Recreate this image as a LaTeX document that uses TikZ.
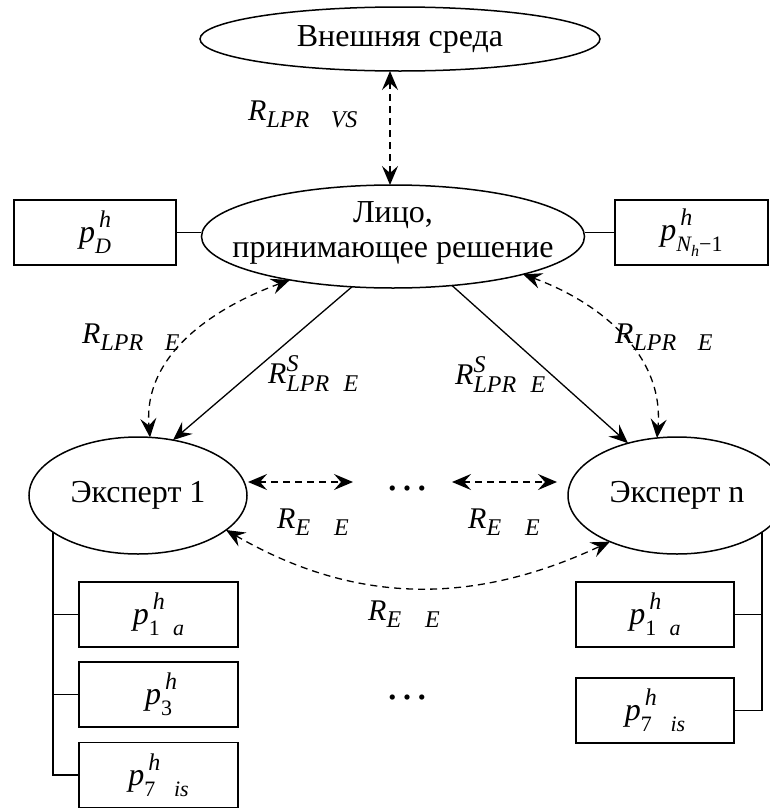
\documentclass[tikz,border=0pt]{standalone}
\usepackage{amsmath}
\usepackage{fontspec}
\setmainfont{Liberation Serif}
\usetikzlibrary{shapes.geometric,arrows.meta,calc}
\newcommand\ii[1]{\textit{#1}}
\newcommand\msml[1]{\mbox{\fontsize{24}{24}\selectfont\itshape #1}}
\newcommand\pbx[1]{{\fontsize{32}{32}\selectfont\itshape p}\rlap{\hspace{4pt}\raisebox{15pt}{\fontsize{24}{24}\selectfont\itshape h}}\raisebox{-11pt}{\fontsize{22}{22}\selectfont #1}}
\begin{document}
\begin{tikzpicture}[x=1pt,y=-1pt,
  every node/.style={font=\fontsize{32}{35}\selectfont},
  mfont/.style={font=\fontsize{30}{34}\selectfont},
  dotfont/.style={font=\fontsize{44}{44}\selectfont, inner sep=0pt},
  ell/.style={draw, ellipse, line width=1.5pt, inner sep=0pt},
  pbox/.style={draw, rectangle, line width=1.5pt, inner sep=0pt, minimum height=65pt},
  dsh/.style={dash pattern=on 7pt off 5pt, line width=1.3pt},
  sol/.style={line width=1.3pt},
  tree/.style={line width=1.6pt},
  lbl/.style={anchor=base west, inner sep=0pt, mfont},
  >={Stealth[length=19pt,width=16pt,inset=7pt]}
]
\useasboundingbox (0,0) rectangle (770,809);

% ellipses
\node[ell, minimum width=400pt, minimum height=64pt] (top) at (400,39) {Внешняя среда};
\node[ell, minimum width=383pt, minimum height=103pt] (lpr) at (393,236.5) {};
\node[align=center, inner sep=0pt] (lprt) at (393,233) {Лицо,\\принимающее решение};
\node[ell, minimum width=218pt, minimum height=117pt] (e1) at (138,495.5) {Эксперт 1};
\node[ell, minimum width=218pt, minimum height=117pt] (en) at (677,495.5) {Эксперт n};

% parameter boxes
\node[pbox, minimum width=162pt] (pD) at (95,232.5) {\pbx{\itshape D}};
\node[pbox, minimum width=153pt] (pN) at (691.5,232.5) {\pbx{\itshape N\raisebox{-5pt}{\fontsize{16}{16}\selectfont h}\upshape −1}};
\node[pbox, minimum width=159pt] (l1) at (158.5,614.5) {\pbx{1\hspace{0.6em}\itshape a}};
\node[pbox, minimum width=159pt] (l2) at (158.5,694.5) {\pbx{3}};
\node[pbox, minimum width=159pt] (l3) at (158.5,775) {\pbx{7\hspace{0.85em}\itshape is}};
\node[pbox, minimum width=158pt] (r1) at (655,614.5) {\pbx{1\hspace{0.6em}\itshape a}};
\node[pbox, minimum width=158pt] (r2) at (655,710.5) {\pbx{7\hspace{0.85em}\itshape is}};

% dots
\node[dotfont, anchor=base] (d1) at (407,490) {…};
\node[dotfont, anchor=base] (d2) at (407,699) {…};

% connectors
\draw[tree] (pD.east) -- (pD.east -| lpr.west);
\draw[tree] (pN.west) -- (pN.west -| lpr.east);
\draw[dsh,<->] ($(top.center)+(-10,32)$) -- ($(lpr.center)+(-3,-51.5)$);

\draw[sol,->] ($(lpr.center)+(-41,50.3)$) -- ($(e1.center)+(35,-55.4)$);
\draw[sol,->] ($(lpr.center)+(59,49)$) -- ($(en.center)+(-49,-52.3)$);

\draw[dsh,<->] ($(lpr.center)+(-103,43.4)$) to[out=200, in=95] ($(e1.center)+(12,-58.1)$);
\draw[dsh,<->] ($(lpr.center)+(130,37.8)$) to[out=-20, in=85] ($(en.center)+(-20,-57.5)$);

\coordinate (h1a) at (248,482);
\coordinate (h1b) at (353,482);
\coordinate (h2a) at (452,482);
\coordinate (h2b) at (557,482);
\draw[dsh,<->] (h1a) -- (h1b);
\draw[dsh,<->] (h2a) -- (h2b);

\draw[dsh,<->] ($(e1.center)+(88,34.5)$) to[out=-30, in=205] ($(en.center)+(-67,46.1)$);

% trees
\coordinate (tl) at ($(e1.center)+(-85,36.6)$);
\coordinate (tr) at ($(en.center)+(85,36.6)$);
\draw[tree] (tl) |- (l1.west);
\draw[tree] (tl) |- (l2.west);
\draw[tree] (tl) |- (l3.west);
\draw[tree] (tr) |- (r1.east);
\draw[tree] (tr) |- (r2.east);

% labels
\node[lbl] (lvs) at (248,120) {$\ii{R}_{\msml{LPR\hspace{0.9em}VS}}$};
\node[lbl] (lle) at (82,343) {$\ii{R}_{\msml{LPR\hspace{0.9em}E}}$};
\node[lbl] (rle) at (615,343) {$\ii{R}_{\msml{LPR\hspace{0.9em}E}}$};
\node[lbl] (lse) at (268,383) {$\ii{R}^{\msml{S}}_{\msml{LPR\hspace{0.6em}E}}$};
\node[lbl] (rse) at (455,384) {$\ii{R}^{\msml{S}}_{\msml{LPR\hspace{0.6em}E}}$};
\node[lbl] (lee) at (277,528) {$\ii{R}_{\msml{E\hspace{1.0em}E}}$};
\node[lbl] (ree) at (468,528) {$\ii{R}_{\msml{E\hspace{1.0em}E}}$};
\node[lbl] (bee) at (368,620) {$\ii{R}_{\msml{E\hspace{1.0em}E}}$};
\end{tikzpicture}
\end{document}
